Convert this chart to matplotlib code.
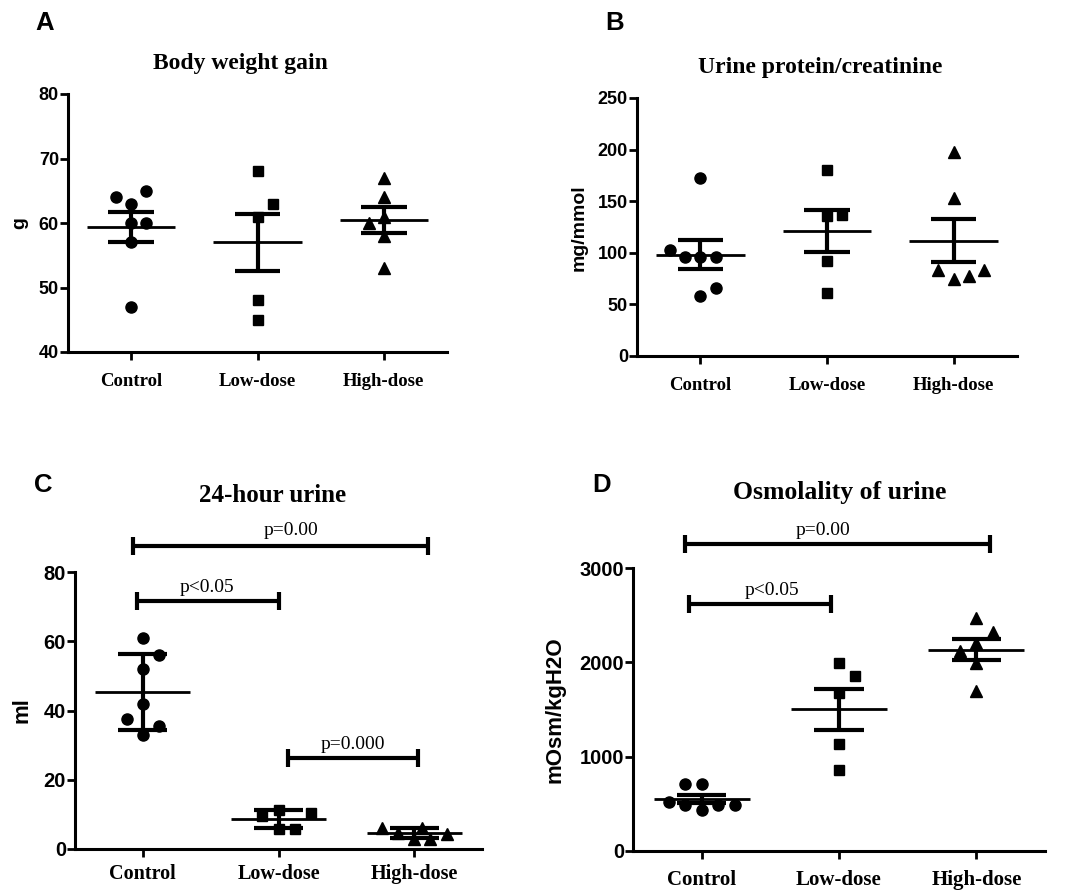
import numpy as np
import matplotlib
matplotlib.use('Agg')
import matplotlib.pyplot as plt

# ---------------- data ----------------
groups = ['Control', 'Low-dose', 'High-dose']

# A: Body weight gain (g)
bw_control = [64, 65, 63, 60, 60, 57, 47]
bw_low = [68, 63, 61, 48, 45]
bw_high = [67, 64, 60, 61, 58, 53]

# B: Urine protein/creatinine (mg/mmol)
upc_control = [172, 103, 96, 96, 96, 58, 66]
upc_low = [180, 136, 137, 92, 61]
upc_high = [198, 153, 83, 75, 78, 83]

# C: 24-hour urine (ml)
u24_control = [61, 56, 52, 42, 37.5, 35.5, 33]
u24_low = [11.2, 10.5, 9.5, 5.7, 5.8]
u24_high = [6.2, 6.2, 4.5, 3.0, 3.0, 4.2]

# D: Osmolality of urine (mOsm/kgH2O)
osm_control = [710, 710, 522, 488, 435, 488, 488]
osm_low = [1993, 1852, 1675, 1138, 855]
osm_high = [2470, 2320, 2200, 2120, 1990, 1700]

panel_letters = ['A', 'B', 'C', 'D']
titles = ['Body weight gain', 'Urine protein/creatinine', '24-hour urine', 'Osmolality of urine']
ylabels = ['g', 'mg/mmol', 'ml', 'mOsm/kgH2O']
yticks_A = [40, 50, 60, 70, 80]
yticks_B = [0, 50, 100, 150, 200, 250]
yticks_C = [0, 20, 40, 60, 80]
yticks_D = [0, 1000, 2000, 3000]
error_kind = ['sem', 'sem', 'sd', 'sem']
p_labels_C = ['p=0.00', 'p<0.05', 'p=0.000']
p_labels_D = ['p=0.00', 'p<0.05']

# ---------------- layout / style ----------------
W, H = 1070, 892
STEP = 0.12
# horizontal spread of the dots (in steps), per group
jit_A = [[-1, 1, 0, 0, 1, 0, 0], [0, 1, 0, 0, 0], [0, 0, -1, 0, 0, 0]]
jit_B = [[0, -2, -1, 0, 1, 0, 1], [0, 0, 1, 0, 0], [0, 0, -1, 0, 1, 2]]
jit_C = [[0, 1, 0, 0, -1, 1, 0], [0, 2, -1, 0, 1], [-2, 0.5, -1, 0, 1, 2]]
jit_D = [[-1, 0, -2, -1, 0, 1, 2], [0, 1, 0, 0, 0], [0, 1, 0, -1, 0, 0]]

markers = ['o', 's', '^']
msizes = [8, 7.5, 8.5]

sans = ['Liberation Sans', 'DejaVu Sans']
serif = ['Liberation Serif', 'DejaVu Serif']

fig = plt.figure(figsize=(W / 100, H / 100), dpi=100)


def px_axes(left, right, top, bottom):
    return fig.add_axes([left / W, (H - bottom) / H, (right - left) / W, (bottom - top) / H])


def draw_panel(ax, data, jit, ylim, yticks, kind, tick_fs, xlab_fs, pad_x):
    for i, vals in enumerate(data):
        vals = np.asarray(vals, dtype=float)
        xs = i + np.asarray(jit[i]) * STEP
        ax.plot(xs, vals, linestyle='none', marker=markers[i], ms=msizes[i],
                color='black', zorder=3, clip_on=False)
        m = vals.mean()
        sd = vals.std(ddof=1)
        err = sd if kind == 'sd' else sd / np.sqrt(len(vals))
        ax.plot([i - 0.35, i + 0.35], [m, m], color='black', lw=2, zorder=4,
                solid_capstyle='butt')
        ax.plot([i, i], [m - err, m + err], color='black', lw=3, zorder=4,
                solid_capstyle='butt')
        for yv in (m - err, m + err):
            ax.plot([i - 0.18, i + 0.18], [yv, yv], color='black', lw=3, zorder=4,
                    solid_capstyle='butt')
    ax.set_xlim(-0.5, 2.5)
    ax.set_ylim(*ylim)
    ax.set_yticks(yticks)
    ax.set_xticks([0, 1, 2])
    ax.set_xticklabels(groups)
    for s in ('top', 'right'):
        ax.spines[s].set_visible(False)
    for s in ('left', 'bottom'):
        ax.spines[s].set_linewidth(2.2)
    ax.tick_params(axis='y', direction='out', length=5.5, width=2, pad=1)
    ax.tick_params(axis='x', direction='out', length=6, width=2, pad=pad_x)
    for lab in ax.get_yticklabels():
        lab.set_fontfamily(sans)
        lab.set_fontweight('bold')
        lab.set_fontsize(tick_fs)
    for lab in ax.get_xticklabels():
        lab.set_fontfamily(serif)
        lab.set_fontweight('bold')
        lab.set_fontsize(xlab_fs)


def bracket(ax, x0, x1, y, capdy, label, tx, ty):
    ax.plot([x0, x1], [y, y], color='black', lw=3, clip_on=False, solid_capstyle='butt')
    for xv in (x0, x1):
        ax.plot([xv, xv], [y - capdy, y + capdy], color='black', lw=3, clip_on=False,
                solid_capstyle='butt')
    ax.text(tx, ty, label, ha='center', va='center', fontsize=14, family=serif,
            clip_on=False)


axA = px_axes(68, 447, 94, 352)
axB = px_axes(637, 1017, 98, 356)
axC = px_axes(75, 482, 572, 849)
axD = px_axes(633, 1045, 568, 851)

draw_panel(axA, [bw_control, bw_low, bw_high], jit_A, (40, 80), yticks_A, error_kind[0], 13, 13.5, 9)
draw_panel(axB, [upc_control, upc_low, upc_high], jit_B, (0, 250), yticks_B, error_kind[1], 13, 13.5, 9)
draw_panel(axC, [u24_control, u24_low, u24_high], jit_C, (0, 80), yticks_C, error_kind[2], 14.5, 14.5, 5)
draw_panel(axD, [osm_control, osm_low, osm_high], jit_D, (0, 3000), yticks_D, error_kind[3], 14.5, 15, 8)

# significance brackets
bracket(axC, -0.07, 2.10, 87.4, 2.6, p_labels_C[0], 1.09, 92.0)
bracket(axC, -0.04, 1.00, 71.5, 2.6, p_labels_C[1], 0.47, 75.4)
bracket(axC, 1.07, 2.03, 26.3, 2.6, p_labels_C[2], 1.55, 30.2)
bracket(axD, -0.12, 2.10, 3258, 95, p_labels_D[0], 0.88, 3400)
bracket(axD, -0.09, 0.94, 2615, 95, p_labels_D[1], 0.51, 2760)

# titles, panel letters, y labels (pixel positions)
title_pos = [(240, 63, 17), (820, 67, 17), (273, 495, 18), (840, 492, 18.5)]
letter_pos = [(45, 23), (615, 23), (43, 485), (602, 485)]
ylab_pos = [(20, 223, 14), (579, 228, 14), (22, 710, 16), (555, 710, 16)]

for t, (x, y, fs) in zip(titles, title_pos):
    fig.text(x / W, 1 - y / H, t, ha='center', va='center', fontsize=fs,
             family=serif, fontweight='bold')
for l, (x, y) in zip(panel_letters, letter_pos):
    fig.text(x / W, 1 - y / H, l, ha='center', va='center', fontsize=18.5,
             family=sans, fontweight='bold')
for l, (x, y, fs) in zip(ylabels, ylab_pos):
    fig.text(x / W, 1 - y / H, l, ha='center', va='center', fontsize=fs,
             family=sans, fontweight='bold', rotation=90)

fig.savefig('out.png', dpi=100)
